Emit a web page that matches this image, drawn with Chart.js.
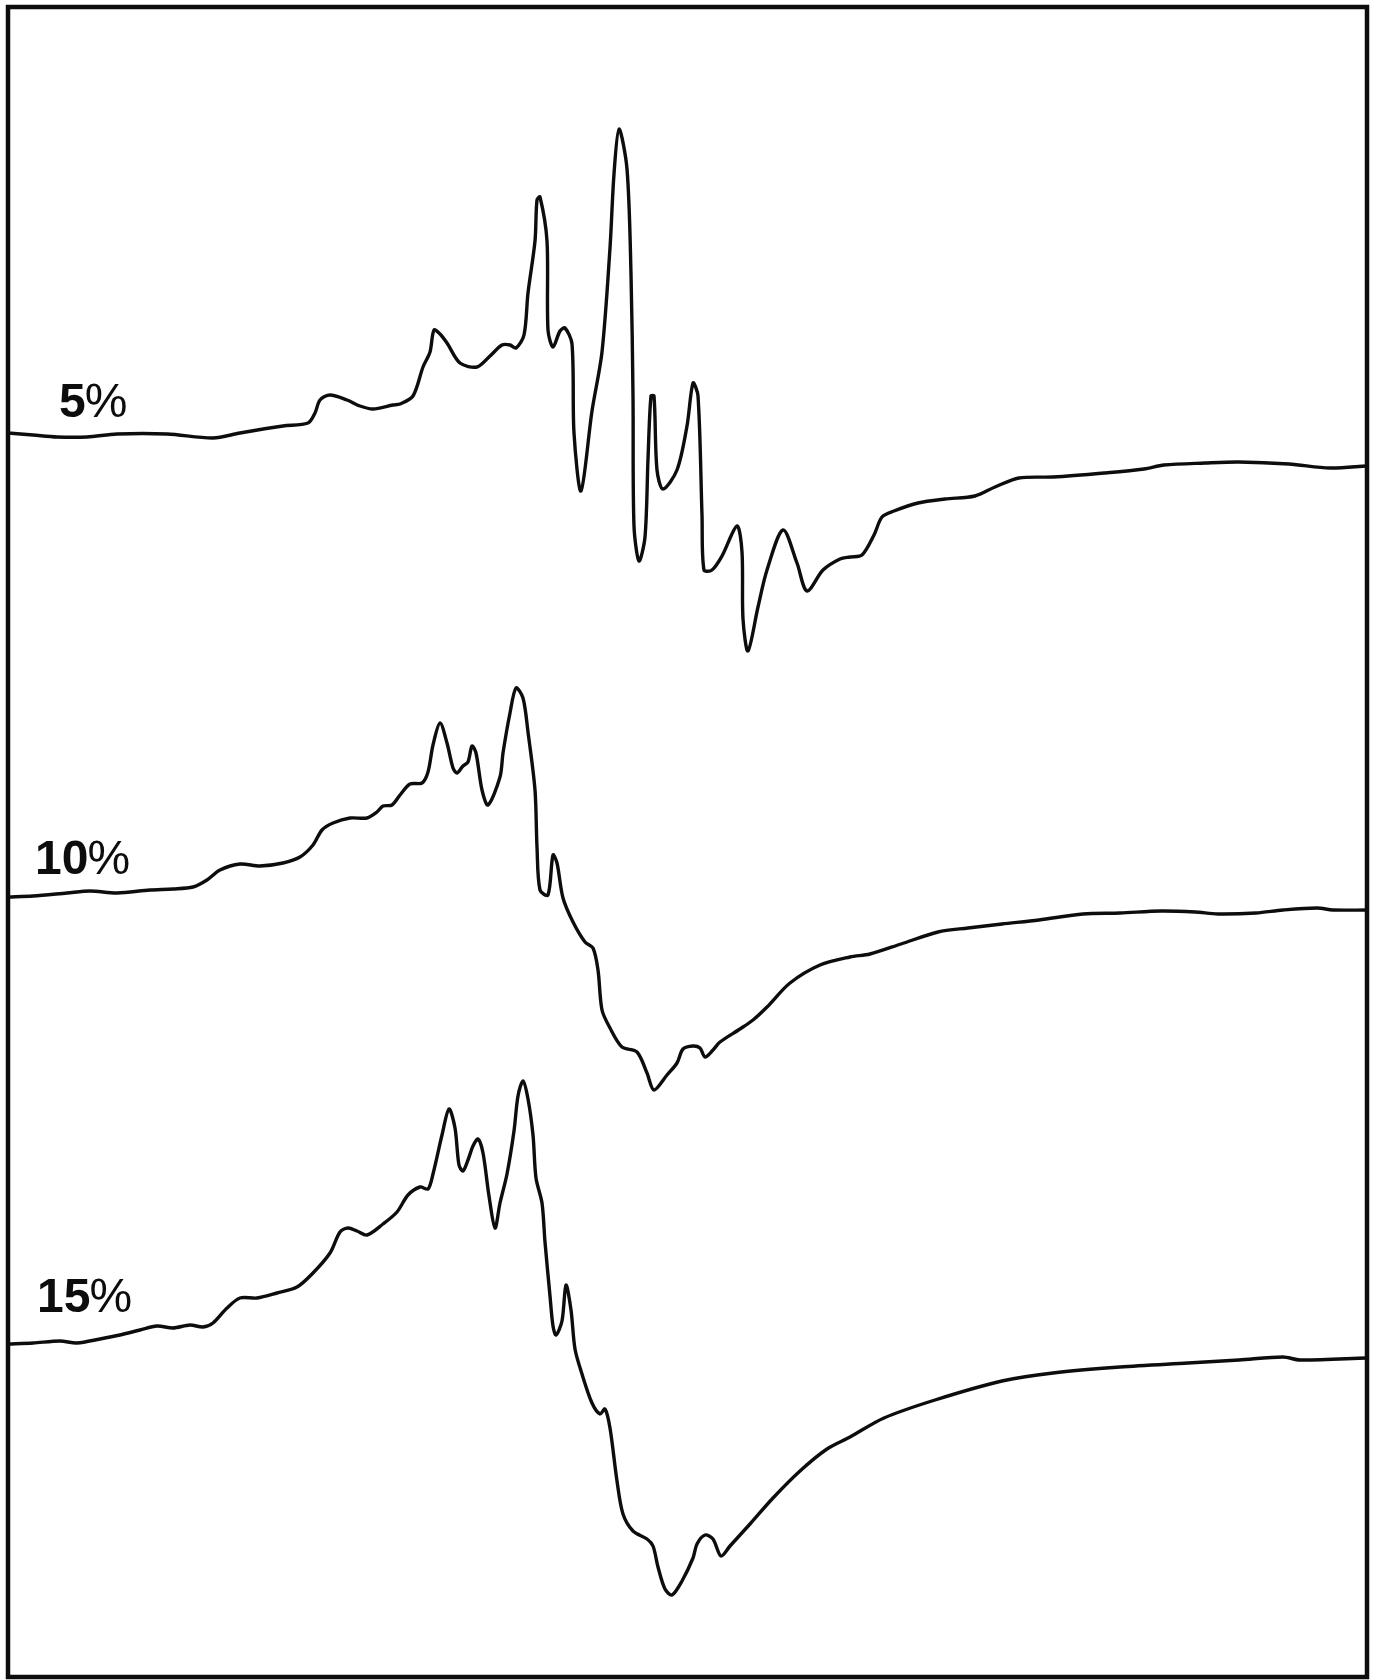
<!DOCTYPE html>
<html>
<head>
<meta charset="utf-8">
<script src="https://cdn.jsdelivr.net/npm/chart.js@4.4.1/dist/chart.umd.min.js"></script>
<style>
  html, body { margin: 0; padding: 0; background: #fff; }
  #wrap { width: 1380px; height: 1680px; }
</style>
</head>
<body>
<div id="wrap"><canvas id="spectra" width="1380" height="1680"></canvas></div>
<script>
// Stacked spectra, one trace per concentration.
// Each point is [field, signal] on a shared stacked axis (field 0..1359, signal 0..1670).
const concentrations = ["5%", "10%", "15%"];

const trace5 = [
    [0,1244],[25,1242],[49,1240],[79,1240],[109,1243],[159,1243],[205,1239],[232,1244],[275,1251],
    [300,1254],[307,1264],[312,1277],[322,1282],[339,1277],[352,1271],[365,1268],[385,1272],[392,1273],
    [405,1281],[415,1310],[422,1325],[426,1347],[432,1343],[439,1334],[452,1314],[469,1310],[482,1321],
    [494,1332],[502,1332],[508,1329],[516,1342],[520,1384],[527,1436],[529,1477],[532,1480],[539,1436],
    [540,1347],[545,1330],[552,1346],[557,1349],[564,1333],[566,1244],[573,1186],[584,1266],[594,1325],
    [602,1429],[606,1503],[611,1548],[619,1508],[623,1403],[625,1281],[626,1151],[631,1116],[637,1140],
    [640,1218],[643,1281],[646,1281],[649,1207],[655,1188],[669,1207],[679,1251],[685,1294],[690,1281],
    [694,1162],[696,1107],[704,1107],[714,1121],[729,1151],[734,1125],[735,1058],[740,1026],[750,1070],
    [759,1107],[775,1147],[789,1114],[799,1086],[815,1107],[832,1118],[842,1120],[854,1122],[866,1142],
    [874,1160],[886,1166],[910,1174],[937,1178],[967,1181],[987,1190],[1011,1199],[1045,1200],[1096,1204],
    [1136,1208],[1156,1212],[1197,1214],[1231,1215],[1281,1213],[1322,1209],[1359,1211]
];

const trace10 = [
    [0,780],[25,781],[59,784],[82,786],[109,784],[142,787],[165,788],[185,790],[199,797],[212,807],
    [232,813],[252,811],[275,814],[292,820],[305,832],[314,847],[325,854],[342,859],[359,859],[369,865],
    [375,871],[384,872],[392,882],[402,893],[414,894],[420,905],[425,932],[432,954],[439,934],[445,909],
    [449,904],[455,911],[460,915],[464,931],[468,924],[474,887],[480,872],[492,900],[495,924],[502,964],
    [508,989],[515,979],[520,945],[527,887],[529,830],[532,787],[540,782],[545,822],[549,814],[555,779],
    [565,755],[577,735],[585,729],[590,707],[594,667],[602,649],[614,630],[629,625],[639,604],[646,587],
    [659,602],[669,614],[675,628],[685,631],[692,629],[697,620],[705,627],[712,635],[732,648],[745,657],
    [759,670],[782,694],[812,712],[842,720],[862,723],[893,733],[930,745],[960,749],[994,753],[1031,757],
    [1075,763],[1112,764],[1153,766],[1187,765],[1210,763],[1248,764],[1275,767],[1309,769],[1325,767],
    [1359,767]
];

const trace15 = [
    [0,333],[25,334],[52,336],[69,334],[92,338],[112,342],[132,347],[149,351],[165,349],[182,352],
    [195,350],[205,354],[219,369],[232,379],[249,379],[269,384],[289,390],[305,404],[322,424],[332,445],
    [340,449],[349,446],[359,442],[375,453],[389,465],[400,482],[412,490],[420,488],[425,503],[434,542],
    [441,568],[447,549],[451,512],[455,506],[460,517],[465,531],[470,538],[475,524],[481,481],[487,449],
    [492,474],[499,503],[506,546],[510,581],[515,596],[520,578],[525,542],[528,499],[534,474],[537,435],
    [542,381],[545,351],[548,342],[554,356],[558,392],[563,367],[567,328],[574,303],[584,274],[592,263],
    [597,268],[602,249],[609,196],[615,163],[625,146],[639,138],[645,131],[650,110],[657,88],[664,82],
    [674,96],[685,119],[689,133],[697,142],[705,138],[713,121],[722,131],[742,153],[765,179],[792,206],
    [819,228],[842,240],[876,259],[927,277],[994,296],[1045,304],[1112,310],[1180,314],[1231,317],
    [1275,320],[1292,317],[1359,319]
];

const traces = [trace5, trace10, trace15];

// where each concentration label sits, in data units (left edge, baseline)
const labelAnchors = [[51, 1260], [27, 803], [29, 365]];

const INK = "#0d0d0d";

// frame round the plot area plus the concentration labels
const framePlugin = {
    id: "frame",
    afterDraw(chart) {
        const { ctx, chartArea: a, scales } = chart;
        ctx.save();
        ctx.strokeStyle = INK;
        ctx.lineWidth = 4.5;
        ctx.strokeRect(a.left, a.top, a.right - a.left, a.bottom - a.top);

        ctx.fillStyle = INK;
        ctx.textBaseline = "alphabetic";
        concentrations.forEach((label, i) => {
            const x = scales.x.getPixelForValue(labelAnchors[i][0]);
            const y = scales.y.getPixelForValue(labelAnchors[i][1]);
            const digits = label.replace("%", "");
            ctx.font = "bold 48px 'Liberation Sans', Arial, sans-serif";
            ctx.fillText(digits, x, y);
            const w = ctx.measureText(digits).width;
            ctx.font = "48px 'Liberation Sans', Arial, sans-serif";
            ctx.fillText("%", x + w - 1, y);
        });
        ctx.restore();
    }
};

new Chart(document.getElementById("spectra").getContext("2d"), {
    type: "line",
    data: {
        datasets: traces.map((t, i) => ({
            label: concentrations[i],
            data: t.map(([x, y]) => ({ x, y })),
            borderColor: INK,
            borderWidth: 3.4,
            borderJoinStyle: "round",
            borderCapStyle: "round",
            pointRadius: 0,
            tension: 0.3,
            fill: false
        }))
    },
    options: {
        responsive: false,
        animation: false,
        layout: { padding: { left: 8, top: 7, right: 13, bottom: 3 } },
        plugins: {
            legend: { display: false },
            tooltip: { enabled: false }
        },
        scales: {
            x: { type: "linear", min: 0, max: 1359, display: false },
            y: { type: "linear", min: 0, max: 1670, display: false }
        }
    },
    plugins: [framePlugin]
});
</script>
</body>
</html>
